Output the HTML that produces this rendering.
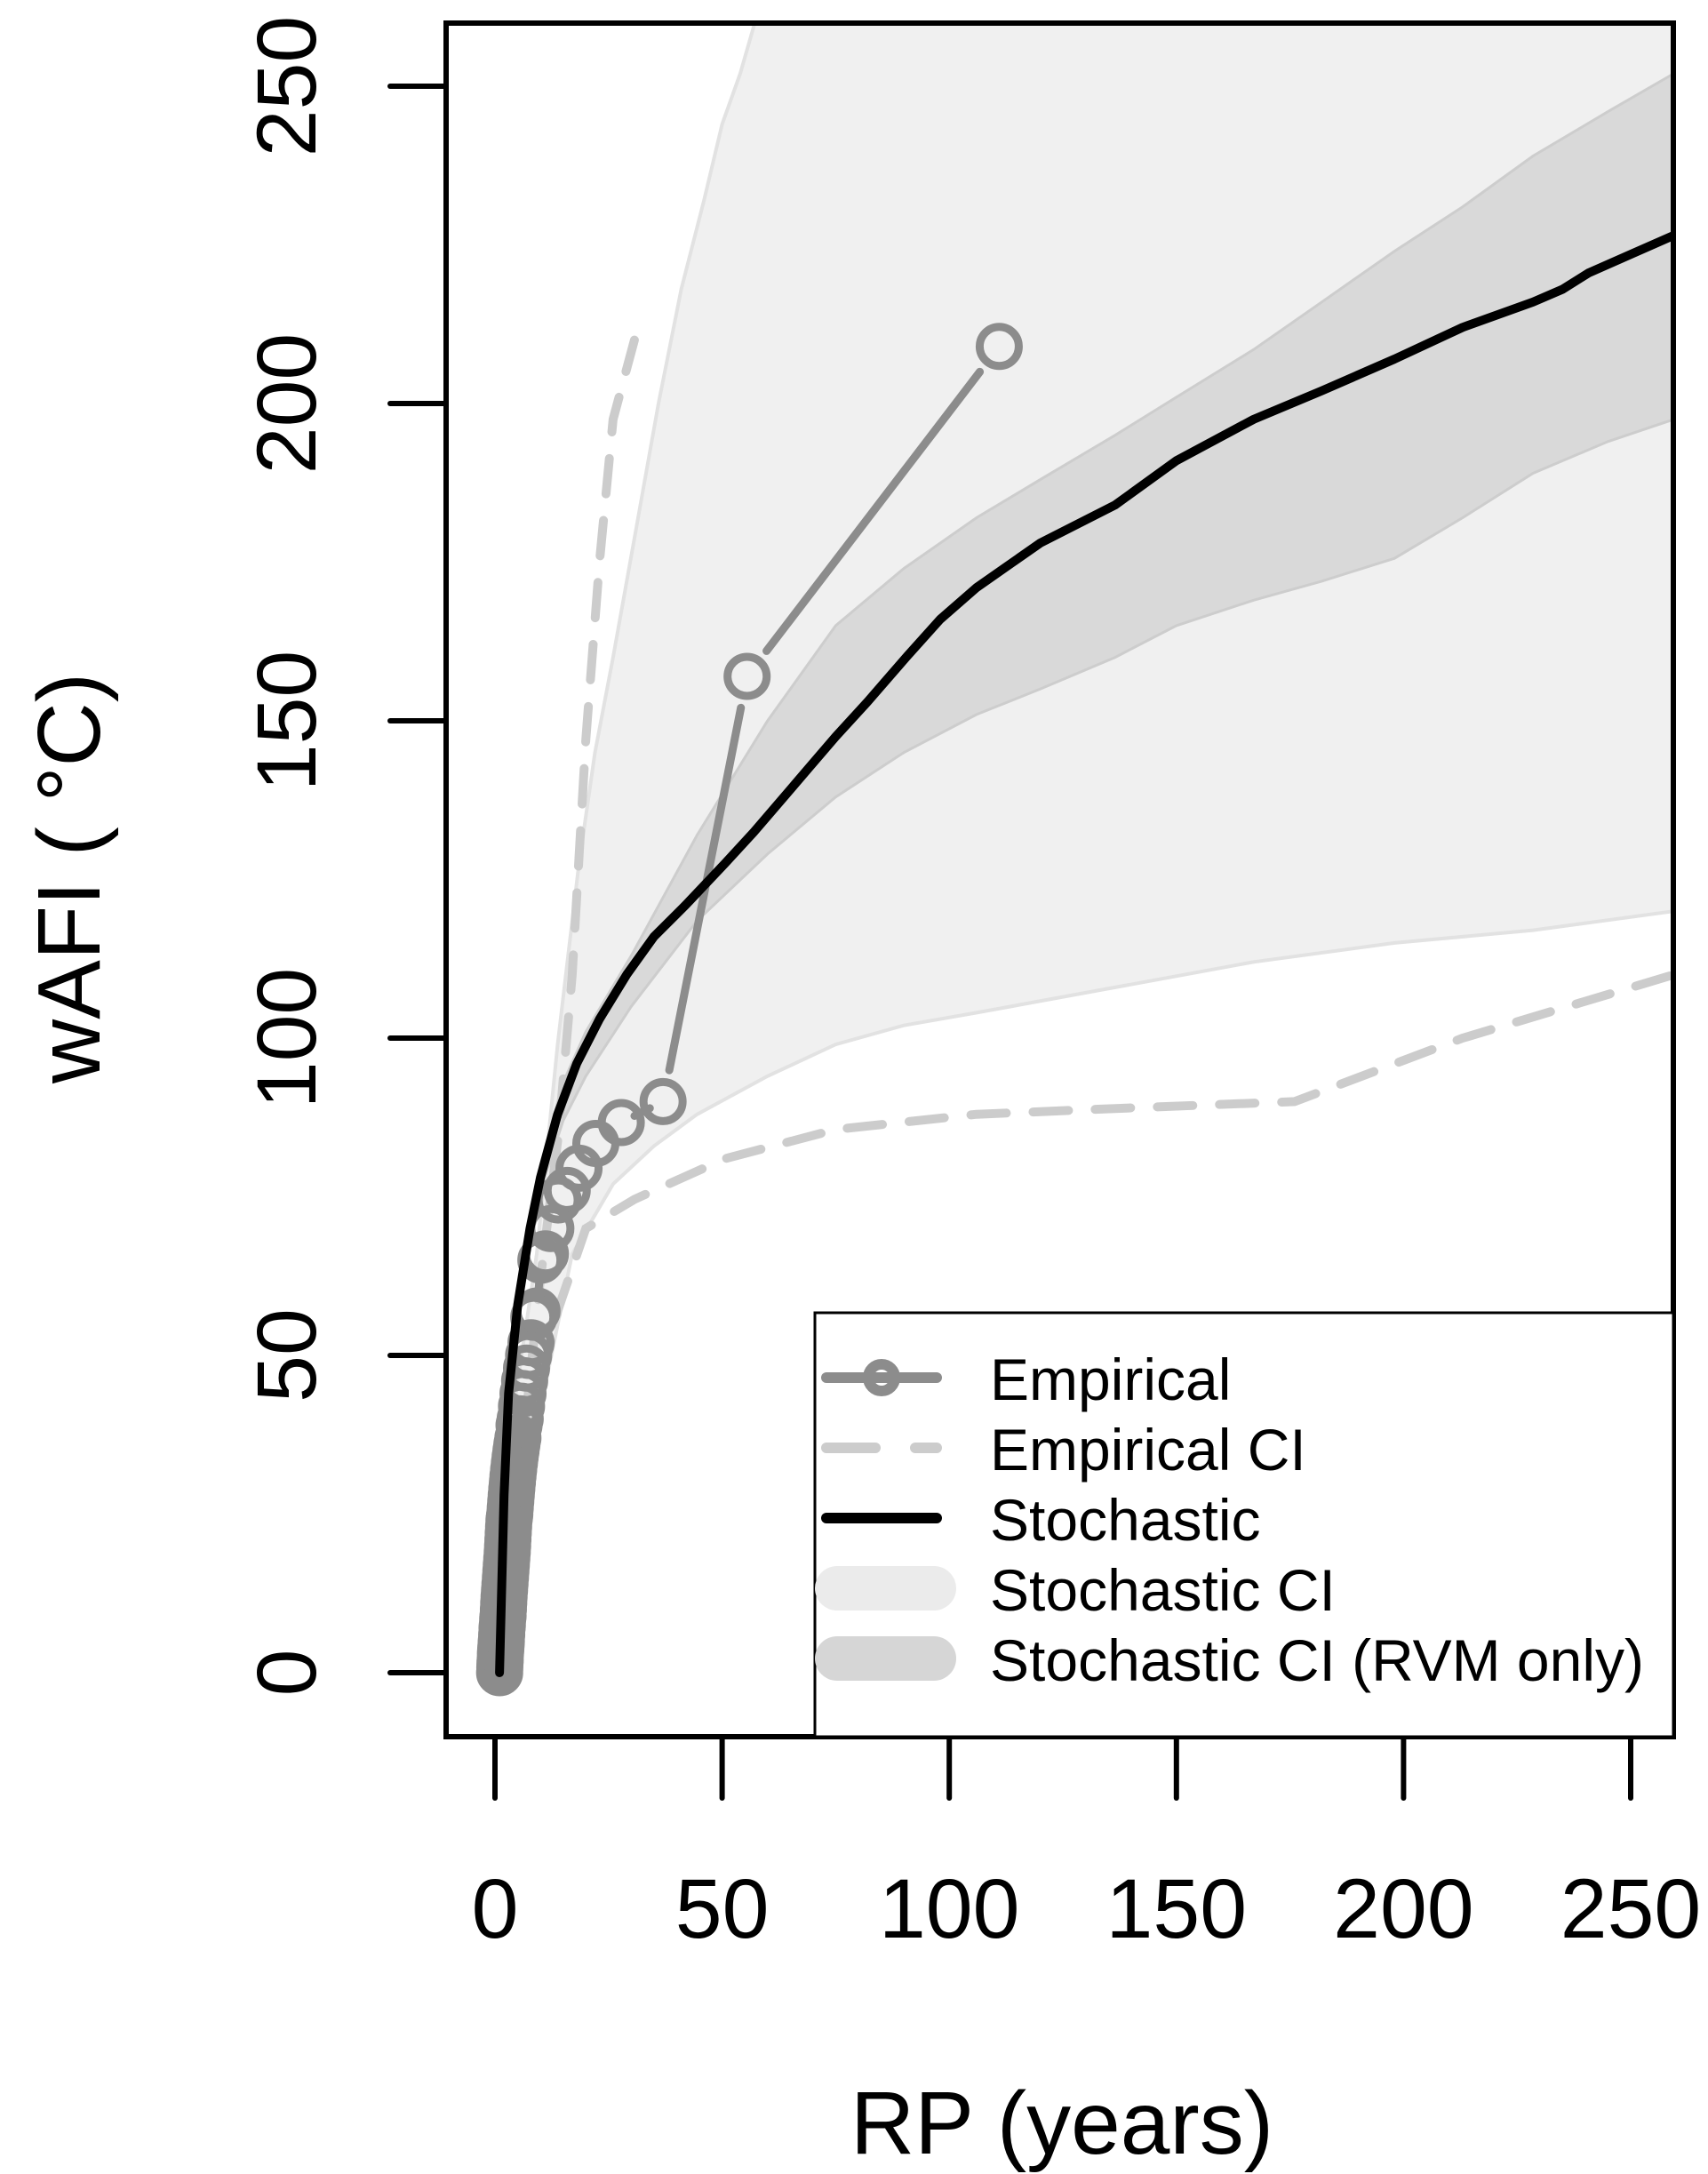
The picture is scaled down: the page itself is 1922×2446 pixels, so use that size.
<!DOCTYPE html>
<html><head><meta charset="utf-8"><style>
html,body{margin:0;padding:0;background:#fff;}
svg{display:block;font-family:"Liberation Sans",sans-serif;}
</style></head><body>
<svg id="chart" width="1922" height="2446" viewBox="0 0 1922 2446" xmlns="http://www.w3.org/2000/svg">
<g id="plot"></g>
</svg>
<script>
const xTicks=[0,50,100,150,200,250];
const yTicks=[0,50,100,150,200,250];
const stochX=[1,2,3,5,7.7,10,13.8,18,23,29,35,42,50.6,57,63,69,75,82,90.5,98,106,120,136.5,150,167,182,198,213,228.5,235,240.8,250,259.5];
const stochY=[0,28,44,58,70,78,88,96,103,110,116,121,127.5,132.5,137.5,142.5,147.5,153,160,166,171,178,184,191,197.5,202,207,212,216,218,220.6,223.5,226.5];
const ciLoX=[1,3,6,10.7,17,26,35,44.5,60,75,90,106,136.5,167,198,228.5,259.5];
const ciLoY=[0,22,36,44,66,77,83,88,94,99,102,104,108,112,115,117,120];
const ciHiX=[1,2.5,4.6,9.2,13.8,18.4,22,26,31,36,41,46,50,54,58,62,262];
const ciHiY=[0,22,44,66,99,127,145,160,180,200,218,232,244,252,262,275,275];
const rvmX=[5,10,15,20,30,44.5,60,75,90,106,120,136.5,150,167,182,198,213,228.5,245,259.5];
const rvmHi=[59,80,93,101,113,132,150,165,174,182,188,195,201,208.5,216,224,231,239,246,252];
const rvmLo=[57,76,87,94,105,118.5,129,138,145,151,155,160,165,169,172,175.6,182,189,194,197.5];
const empX=[111,55.5,37,27.8,22.2,18.5,15.9,13.9,12.3,11.1,10.1,9.25,8.54,7.93,7.4,6.94,6.53,6.17,5.84,5.55,5.29,5.05,4.83,4.63,4.44,4.27,4.11,3.96,3.83,3.7,3.58,3.47,3.36,3.26,3.17,3.08,3.0,2.92,2.85,2.78,2.7,2.6,2.5,2.4,2.3,2.2,2.1,2.0,1.92,1.85,1.78,1.7,1.62,1.55,1.48,1.4,1.35,1.3,1.25,1.2,1.15,1.1,1.06,1.02];
const empY=[209,157,90,86.7,83.4,79.5,76,74.5,70,66,65,57,56,52,50,48,46,44,42,40,39,37,36,35,34,33,32,31,30,29,28,27,26,25,24.5,24,23,22,21,20,19,18,17,16,15,14,13,12,11,10,9,8.5,7.5,7,6,5,4.5,4,3.5,3,2,1.5,0.8,0];
const eciHiX=[3,6,10,14,17,20,23,26,30.7];
const eciHiY=[10,35,62,85,110,147,175,197.5,210];
const eciLoX=[3,6,10,13.8,20,30.7,50.6,75,106,140,176,213,259.5];
const eciLoY=[8,28,45,57,70,74.6,81,85.6,88,89,90,100,110];
const legendLabels=["Empirical","Empirical CI","Stochastic","Stochastic CI","Stochastic CI (RVM only)"];

const NS="http://www.w3.org/2000/svg";
const PL=502,PR=1883,PT=26,PB=1954;
function sx(v){return 557+(v-0)*(1835-557)/250;}
function sy(v){return 1882-(v-0)*(1882-97)/250;}
const root=document.getElementById('plot');
function mk(tag,attrs,parent){const e=document.createElementNS(NS,tag);for(const k in attrs)e.setAttribute(k,attrs[k]);(parent||root).appendChild(e);return e;}
function pts(xs,ys){return xs.map((x,i)=>sx(x).toFixed(1)+','+sy(ys[i]).toFixed(1)).join(' ');}

const defs=mk('defs',{});
const cp=mk('clipPath',{id:'clip'},defs);
mk('rect',{x:PL,y:PT,width:PR-PL,height:PB-PT},cp);
const g=mk('g',{'clip-path':'url(#clip)'});

let band=mk('polygon',{points:pts(ciHiX,ciHiY)+' '+pts(ciLoX.slice().reverse(),ciLoY.slice().reverse()),fill:'#f0f0f0',stroke:'#e2e2e2','stroke-width':4},g);


let band2=mk('polygon',{points:pts(rvmX,rvmHi)+' '+pts(rvmX.slice().reverse(),rvmLo.slice().reverse()),fill:'#d9d9d9',stroke:'#cdcdcd','stroke-width':3},g);


[[eciHiX,eciHiY,'empirical-ci-upper'],[eciLoX,eciLoY,'empirical-ci-lower']].forEach(([xs,ys,n])=>{
  let l=mk('polyline',{points:pts(xs,ys),fill:'none',stroke:'#cccccc','stroke-width':10,'stroke-dasharray':'40 30','stroke-linecap':'round'},g);
  
  
});
const R=22;
for(let i=0;i<empX.length-1;i++){
  const x1=sx(empX[i]),y1=sy(empY[i]),x2=sx(empX[i+1]),y2=sy(empY[i+1]);
  const d=Math.hypot(x2-x1,y2-y1);
  if(d>2*R+8){const ux=(x2-x1)/d,uy=(y2-y1)/d;
    let s=mk('line',{x1:x1+ux*(R+14),y1:y1+uy*(R+14),x2:x2-ux*(R+14),y2:y2-uy*(R+14),stroke:'#8c8c8c','stroke-width':9,'stroke-linecap':'round'},g);
    
    
  }
}
empX.forEach((x,i)=>{
  let c=mk('circle',{cx:sx(x),cy:sy(empY[i]),r:R,fill:'none',stroke:'#8c8c8c','stroke-width':9},g);
  
  
});
let st=mk('polyline',{points:pts(stochX,stochY),fill:'none',stroke:'#000','stroke-width':10,'stroke-linecap':'round','stroke-linejoin':'round'},g);



let fr=mk('rect',{x:PL,y:PT,width:PR-PL,height:PB-PT,fill:'none',stroke:'#000','stroke-width':6});



yTicks.forEach(v=>{
  let t=mk('line',{x1:439,x2:PL,y1:sy(v),y2:sy(v),stroke:'#000','stroke-width':6,'stroke-linecap':'round'});
  
  
  let tx=mk('text',{x:0,y:0,transform:`translate(355,${sy(v)}) rotate(-90)`,'text-anchor':'middle','font-size':95});
  tx.textContent=v;
  
  
});
xTicks.forEach(v=>{
  let t=mk('line',{x1:sx(v),x2:sx(v),y1:PB,y2:2023,stroke:'#000','stroke-width':6,'stroke-linecap':'round'});
  
  
  let tx=mk('text',{x:sx(v),y:2180,'text-anchor':'middle','font-size':95});
  tx.textContent=v;
  
  
});
let xt=mk('text',{x:1195,y:2423,'text-anchor':'middle','font-size':100});
xt.textContent='RP (years)';


let yt=mk('text',{x:0,y:0,transform:'translate(112,988) rotate(-90)','text-anchor':'middle','font-size':100});
yt.textContent='wAFI ( °C)';



const lg=mk('g',{});


mk('rect',{x:917,y:1477,width:PR-917,height:PB-1477,fill:'#fff',stroke:'#000','stroke-width':3},lg);
const rows=[1550,1629,1708,1787,1866];
mk('line',{x1:930,x2:1054,y1:rows[0],y2:rows[0],stroke:'#8c8c8c','stroke-width':12,'stroke-linecap':'round'},lg);
mk('circle',{cx:992,cy:rows[0],r:15,fill:'none',stroke:'#8c8c8c','stroke-width':12},lg);
mk('line',{x1:930,x2:985,y1:rows[1],y2:rows[1],stroke:'#cccccc','stroke-width':12,'stroke-linecap':'round'},lg);
mk('line',{x1:1030,x2:1054,y1:rows[1],y2:rows[1],stroke:'#cccccc','stroke-width':12,'stroke-linecap':'round'},lg);
mk('line',{x1:930,x2:1054,y1:rows[2],y2:rows[2],stroke:'#000','stroke-width':12,'stroke-linecap':'round'},lg);
mk('line',{x1:942,x2:1051,y1:rows[3],y2:rows[3],stroke:'#ebebeb','stroke-width':50,'stroke-linecap':'round'},lg);
mk('line',{x1:942,x2:1051,y1:rows[4],y2:rows[4],stroke:'#d6d6d6','stroke-width':50,'stroke-linecap':'round'},lg);
legendLabels.forEach((s,i)=>{
  let t=mk('text',{x:1114,y:rows[i]+25,'font-size':66},lg);
  t.textContent=s;
  
  
});
</script>
</body></html>
